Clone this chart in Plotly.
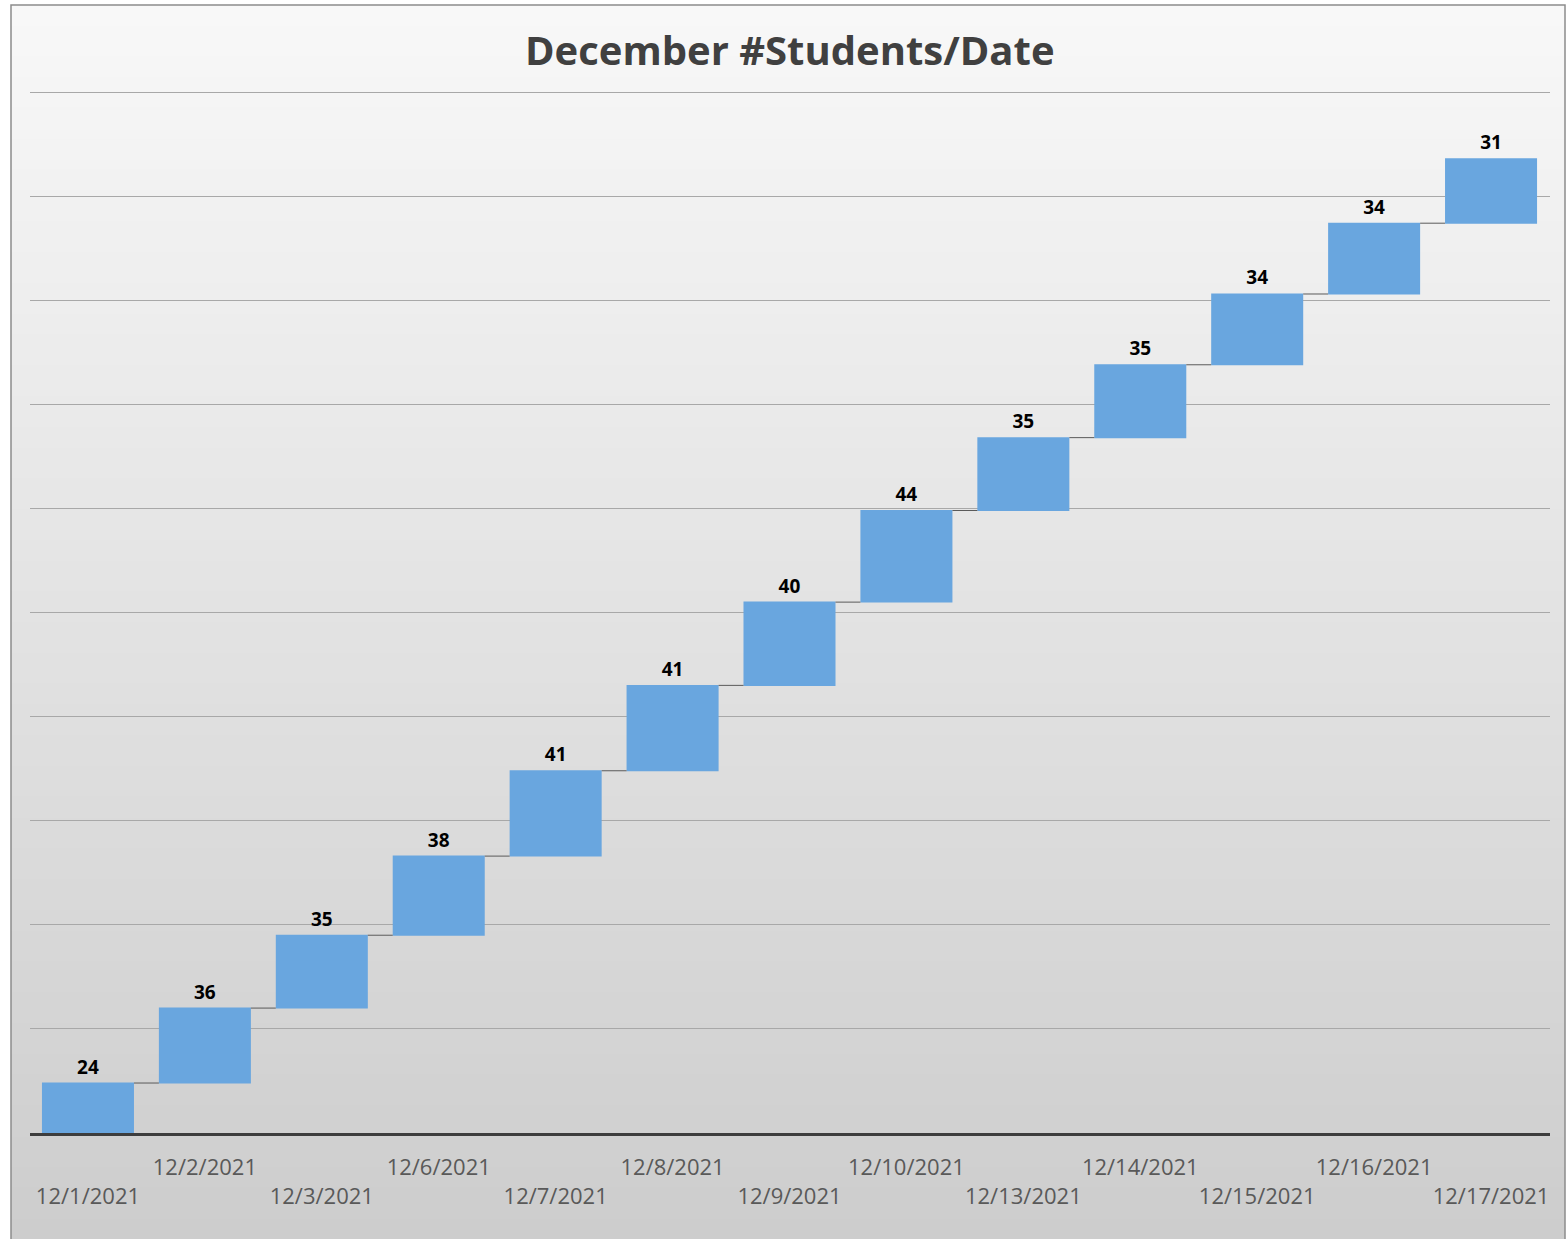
import plotly.graph_objects as go

# ---- data ----
dates = ["12/1/2021", "12/2/2021", "12/3/2021", "12/6/2021", "12/7/2021",
         "12/8/2021", "12/9/2021", "12/10/2021", "12/13/2021", "12/14/2021",
         "12/15/2021", "12/16/2021", "12/17/2021"]
students = [24, 36, 35, 38, 41, 41, 40, 44, 35, 35, 34, 34, 31]
title_text = "December #Students/Date"

W, H = 1567, 1239
FONT = "Open Sans"

# staggered tick labels: even index -> lower row, odd index -> upper row
tick_text = [("<br>" + d) if i % 2 == 0 else d for i, d in enumerate(dates)]

fig = go.Figure()
fig.add_trace(go.Waterfall(
    x=dates,
    y=students,
    measure=["relative"] * len(students),
    text=[str(v) for v in students],
    textposition="outside",
    textfont=dict(family=FONT, size=19, color="#000000", weight="bold"),
    increasing=dict(marker=dict(color="#69A6DF", line=dict(width=0))),
    decreasing=dict(marker=dict(color="#69A6DF", line=dict(width=0))),
    connector=dict(line=dict(color="#5a5a5a", width=1), mode="between"),
    cliponaxis=False,
    showlegend=False,
    hoverinfo="skip",
))

# background gradient (decoration) inside the chart border
shapes = []
nb = 120
x0p, x1p = 11 / W, 1565 / W
y_top, y_bot = 1 - 5 / H, 0.0
top_c = (248, 248, 248)
bot_c = (205, 205, 205)
step = (y_top - y_bot) / nb
for k in range(nb):
    t = k / (nb - 1)
    c = tuple(int(round(top_c[j] + (bot_c[j] - top_c[j]) * t)) for j in range(3))
    ya = y_top - step * k
    yb = max(y_bot, ya - step * 2.0)
    shapes.append(dict(type="rect", xref="paper", yref="paper", x0=x0p, x1=x1p,
                       y0=yb, y1=ya, fillcolor="rgb(%d,%d,%d)" % c,
                       line=dict(width=0), layer="below"))
# chart border
shapes.append(dict(type="rect", xref="paper", yref="paper", x0=x0p, x1=x1p,
                   y0=-0.01, y1=y_top, fillcolor="rgba(0,0,0,0)",
                   line=dict(color="#8c8c8c", width=1.5), layer="below"))

fig.update_layout(
    width=W, height=H,
    margin=dict(l=0, r=0, t=0, b=0),
    paper_bgcolor="#ffffff",
    plot_bgcolor="rgba(0,0,0,0)",
    waterfallgap=0.213,
    shapes=shapes,
    font=dict(family=FONT),
    annotations=[dict(
        text="<b>" + title_text + "</b>", xref="paper", yref="paper",
        x=789.5 / W, y=1 - 50 / H, xanchor="center", yanchor="middle",
        showarrow=False, font=dict(family=FONT, size=40, color="#404040"))],
    xaxis=dict(
        domain=[29.5 / W, 1549.5 / W],
        type="category",
        tickmode="array", tickvals=dates, ticktext=tick_text,
        tickfont=dict(family=FONT, size=22, color="#595959"),
        tickangle=0,
        ticks="", ticklabelstandoff=13,
        showline=True, linecolor="#3d3d3d", linewidth=3,
        showgrid=False, automargin=False, fixedrange=True,
    ),
    yaxis=dict(
        domain=[(H - 1133) / H, (H - 91) / H],
        range=[0, 500.5],
        dtick=50, tick0=0,
        showticklabels=False, ticks="",
        showgrid=True, gridcolor="#a8a8a8", gridwidth=1,
        zeroline=False, showline=False, automargin=False, fixedrange=True,
    ),
)

fig.write_html("out.html", config={"displayModeBar": False},
               post_script="document.body.style.margin='0px';")
